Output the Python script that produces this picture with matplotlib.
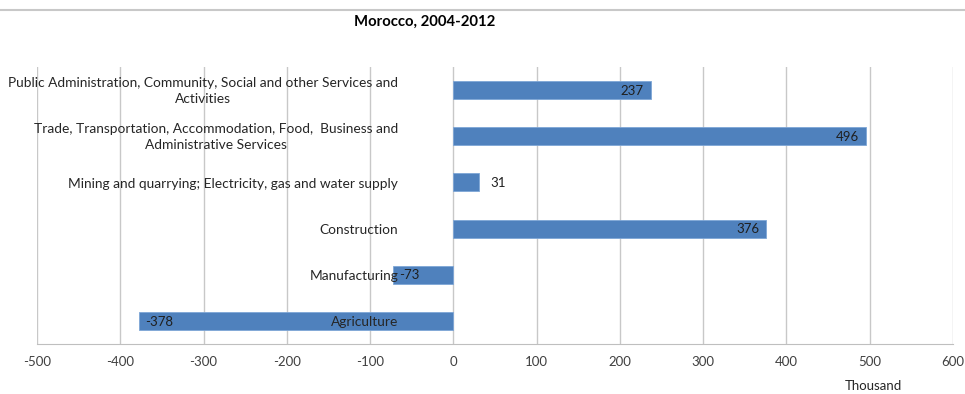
import matplotlib.pyplot as plt
from matplotlib.lines import Line2D

plt.rcParams['font.family'] = ['Lato', 'DejaVu Sans']

sectors = [
    'Public Administration, Community, Social and other Services and\nActivities',
    'Trade, Transportation, Accommodation, Food,  Business and\nAdministrative Services',
    'Mining and quarrying; Electricity, gas and water supply',
    'Construction',
    'Manufacturing',
    'Agriculture',
]
change = [237, 496, 31, 376, -73, -378]
inside_label = [True, True, False, True, True, True]
xticks = [-500, -400, -300, -200, -100, 0, 100, 200, 300, 400, 500, 600]

fig = plt.figure(figsize=(9.65, 3.94), dpi=100)
ax = fig.add_axes([0.0383, 0.127, 0.9493, 0.703])

ypos = list(range(len(sectors)))
ax.barh(ypos, change, height=0.39, color='#4F81BD', edgecolor='#7EA6D6',
        linewidth=0.6, zorder=3)

ax.set_xlim(-500, 600)
ax.set_ylim(len(sectors) - 0.5, -0.5)
ax.set_xticks(xticks)
ax.set_xticklabels([str(t) for t in xticks])
ax.set_yticks([])

for s in ['left', 'right', 'top']:
    ax.spines[s].set_visible(False)
ax.spines['bottom'].set_color('#BFBFBF')
ax.tick_params(axis='x', length=0, pad=9, labelsize=9.5, labelcolor='#404040')

ax.grid(axis='x', color='#C8C8C8', linewidth=1.0, zorder=0)
ax.set_axisbelow(True)

# category labels sit next to the zero line, drawn over the bars
for y, name in zip(ypos, sectors):
    ax.annotate(name, xy=(0, y), xytext=(-39.6, -0.8), textcoords='offset points',
                ha='right', va='center', multialignment='center', linespacing=1.4,
                fontsize=9.9, color='#262626', zorder=6)

for y, v, inside in zip(ypos, change, inside_label):
    if inside:
        off = -5 if v > 0 else 5
        ha = 'right' if v > 0 else 'left'
    else:
        off = 8 if v > 0 else -8
        ha = 'left' if v > 0 else 'right'
    ax.annotate(str(v), xy=(v, y), xytext=(off, -0.5), textcoords='offset points',
                ha=ha, va='center', fontsize=9.5, color='#1F1F1F', zorder=6)

ax.set_xlabel('Thousand', fontsize=9.5, color='#262626')
ax.xaxis.set_label_coords(0.913, -0.13)

fig.text(0.44, 0.944, 'Morocco, 2004-2012', ha='center', va='center',
         fontsize=10.7, fontweight='bold', color='#000000')
fig.add_artist(Line2D([0, 1], [0.975, 0.975], transform=fig.transFigure,
                      color='#C8C8C8', linewidth=1.5))

fig.savefig('out.png', dpi=100)
